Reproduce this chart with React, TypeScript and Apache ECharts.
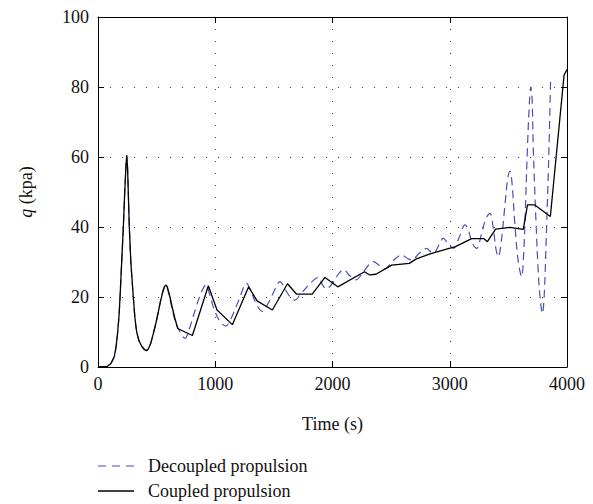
import React, { useEffect, useRef } from "react";
import * as echarts from "echarts";

const xTicks = [0, 1000, 2000, 3000, 4000];
const yTicks = [0, 20, 40, 60, 80, 100];

const timeCoupled = [0, 80, 110, 139, 155, 168, 180, 188, 202, 216, 228, 238, 245, 252, 260, 267, 280, 301, 315, 330, 350, 372, 395, 415, 430, 450, 470, 490, 510, 530, 550, 565, 577, 590, 610, 630, 655, 680, 805, 941, 1015, 1146, 1285, 1357, 1487, 1616, 1694, 1827, 1936, 2045, 2273, 2317, 2370, 2505, 2655, 2715, 2832, 2995, 3045, 3187, 3290, 3321, 3391, 3514, 3627, 3663, 3725, 3858, 3975, 4000];
const qCoupled = [0, 0.2, 1, 3, 6, 10, 15, 20, 30, 40, 50, 57, 60.5, 57, 48, 40, 30, 20, 14, 10, 7.5, 6, 5, 4.7, 5.2, 6.8, 9.3, 12, 15, 18.3, 21.2, 22.8, 23.4, 23, 20.5, 17.5, 14, 11, 9, 23.2, 16.3, 12.1, 22.9, 18.9, 16.3, 23.8, 20.8, 20.8, 25.6, 22.9, 27.2, 26.3, 26.5, 29.1, 29.6, 30.9, 32.3, 33.9, 34.3, 36.7, 36.7, 35.8, 39.4, 39.9, 39.3, 46.3, 46.3, 43, 83.4, 85];

const timeDecoupled = [0, 80, 110, 139, 155, 168, 180, 188, 202, 216, 228, 238, 245, 252, 260, 267, 280, 301, 315, 330, 350, 372, 395, 415, 430, 450, 470, 490, 510, 530, 550, 565, 577, 600, 630, 660, 700, 742, 780, 840, 890, 922, 950, 990, 1040, 1090, 1130, 1200, 1268, 1300, 1350, 1400, 1440, 1500, 1552, 1600, 1640, 1680, 1720, 1800, 1879, 1915, 1945, 1990, 2050, 2092, 2150, 2200, 2270, 2348, 2400, 2442, 2520, 2590, 2640, 2675, 2740, 2803, 2835, 2860, 2910, 2945, 2980, 3030, 3080, 3130, 3160, 3190, 3230, 3270, 3310, 3343, 3370, 3395, 3414, 3440, 3470, 3495, 3514, 3530, 3557, 3585, 3613, 3630, 3645, 3662, 3680, 3692, 3702, 3713, 3735, 3755, 3770, 3790, 3805, 3826, 3846, 3860];
const qDecoupled = [0, 0.2, 1, 3, 6, 10, 15, 20, 30, 40, 50, 57, 60.5, 57, 48, 40, 30, 20, 14, 10, 7.5, 6, 5, 4.7, 5.2, 6.8, 9.3, 12, 15, 18.3, 21.2, 22.8, 23.4, 21.5, 17, 13, 10, 8.2, 11, 17.5, 22, 23.5, 21, 16.5, 13, 11.7, 13.5, 19, 23.9, 22, 18, 15.9, 17.5, 21.5, 24.4, 22, 20, 19.1, 20.5, 23.5, 25.6, 23.5, 22.3, 23.5, 26.5, 27.8, 26, 24.9, 27.5, 30.1, 29, 28, 30.5, 32, 31, 30.6, 32.5, 33.9, 33, 32.5, 35, 36.8, 35.5, 33.9, 37, 40.6, 39, 35.5, 33.9, 38, 42.5, 43.9, 40, 33.5, 31.5, 36, 46, 54, 56, 53, 40, 30, 25.8, 32, 45, 62, 76, 80, 77, 62, 42, 27, 20, 15.3, 20, 40, 62, 82];

const seriesNames = ["Decoupled propulsion", "Coupled propulsion"];

const FONT = "Liberation Serif";
const FS = 18;
const BLUE = "#4650b8";

export default function App() {
  const ref = useRef<HTMLDivElement>(null);
  useEffect(() => {
    if (!ref.current) return;
    const chart = echarts.init(ref.current, null, { renderer: "svg" });
    const pairs = (xs: number[], ys: number[]) => xs.map((x, i) => [x, ys[i]]);
    const gridDot = { show: true, lineStyle: { color: "#444", width: 1, type: [1, 11] as any } };
    const boxAxis = {
      axisLine: { show: true, onZero: false, lineStyle: { color: "#000", width: 1 } },
      axisTick: { show: true, inside: true, length: 6, lineStyle: { color: "#000" } },
      axisLabel: { show: false },
      splitLine: { show: false },
    };
    chart.setOption({
      animation: false,
      backgroundColor: "#fff",
      grid: { left: 98, right: 26, top: 17, bottom: 137, containLabel: false },
      xAxis: [
        {
          type: "value",
          min: xTicks[0],
          max: xTicks[xTicks.length - 1],
          interval: 1000,
          name: "Time (s)",
          nameLocation: "middle",
          nameGap: 48,
          nameTextStyle: { fontFamily: FONT, fontSize: FS, color: "#111" },
          axisLine: { show: true, onZero: false, lineStyle: { color: "#000", width: 1 } },
          axisTick: { show: true, inside: true, length: 6, lineStyle: { color: "#000" } },
          axisLabel: { fontFamily: FONT, fontSize: FS, color: "#111", margin: 8, formatter: (v: number) => String(v) },
          splitLine: gridDot,
        },
        { type: "value", position: "top", min: xTicks[0], max: xTicks[xTicks.length - 1], interval: 1000, ...boxAxis },
      ],
      yAxis: [
        {
          type: "value",
          min: yTicks[0],
          max: yTicks[yTicks.length - 1],
          interval: 20,
          name: "{i|q} (kpa)",
          nameLocation: "middle",
          nameGap: 63,
          nameRotate: 90,
          nameTextStyle: {
            fontFamily: FONT,
            fontSize: FS,
            color: "#111",
            rich: { i: { fontFamily: FONT, fontSize: FS, fontStyle: "italic", color: "#111" } },
          },
          axisLine: { show: true, onZero: false, lineStyle: { color: "#000", width: 1 } },
          axisTick: { show: true, inside: true, length: 6, lineStyle: { color: "#000" } },
          axisLabel: { fontFamily: FONT, fontSize: FS, color: "#111", margin: 9 },
          splitLine: gridDot,
        },
        { type: "value", position: "right", min: yTicks[0], max: yTicks[yTicks.length - 1], interval: 20, ...boxAxis },
      ],
      graphic: [
        { type: "line", shape: { x1: 98, y1: 466, x2: 134, y2: 466 }, style: { stroke: BLUE, lineWidth: 1.2, lineDash: [8, 6] } },
        { type: "text", x: 148, y: 466, style: { text: seriesNames[0], fontFamily: FONT, fontSize: FS, fill: "#111", verticalAlign: "middle" } },
        { type: "line", shape: { x1: 98, y1: 491, x2: 134, y2: 491 }, style: { stroke: "#000", lineWidth: 1.3 } },
        { type: "text", x: 148, y: 491, style: { text: seriesNames[1], fontFamily: FONT, fontSize: FS, fill: "#111", verticalAlign: "middle" } },
      ],
      series: [
        {
          name: seriesNames[0],
          type: "line",
          data: pairs(timeDecoupled, qDecoupled),
          showSymbol: false,
          symbol: "none",
          smooth: 0.35,
          lineStyle: { color: BLUE, width: 1.2, type: [8, 5] as any },
          itemStyle: { color: BLUE },
          z: 2,
        },
        {
          name: seriesNames[1],
          type: "line",
          data: pairs(timeCoupled, qCoupled),
          showSymbol: false,
          symbol: "none",
          smooth: false,
          lineStyle: { color: "#000", width: 1.3 },
          itemStyle: { color: "#000" },
          z: 3,
        },
      ],
    });
    return () => chart.dispose();
  }, []);
  return <div ref={ref} style={{ width: 593, height: 504, position: "absolute", left: 0, top: 0 }} />;
}
